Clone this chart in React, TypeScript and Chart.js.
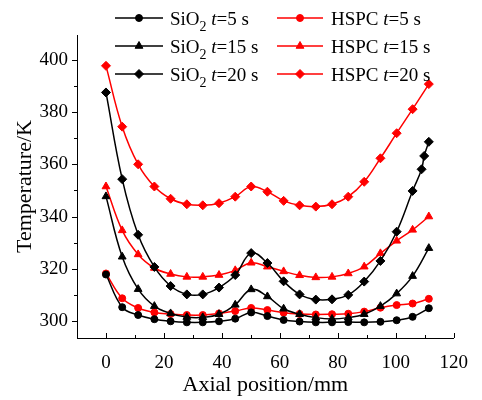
import React, { useEffect, useRef } from "react";
import { Chart, registerables } from "chart.js";

Chart.register(...registerables);

// Axial positions (mm)
const xPositions = [0, 5.6, 11.1, 16.7, 22.3, 27.9, 33.4, 39.0, 44.6, 50.1, 55.7, 61.3, 66.8, 72.4, 78.0, 83.6, 89.1, 94.7, 100.3, 105.8, 111.4];
const xPositionsSiO2t20 = [0, 5.6, 11.1, 16.7, 22.3, 27.9, 33.4, 39.0, 44.6, 50.1, 55.7, 61.3, 66.8, 72.4, 78.0, 83.6, 89.1, 94.7, 100.3, 105.8, 108.9, 109.8, 111.4];

// Temperatures (K)
const sio2T5 = [317.8, 305.3, 302.3, 300.7, 299.9, 299.5, 299.5, 299.9, 300.9, 303.3, 301.9, 300.4, 299.8, 299.5, 299.5, 299.6, 299.5, 299.7, 300.3, 301.6, 304.9];
const sio2T15 = [347.7, 324.6, 312.2, 305.7, 302.9, 301.5, 301.4, 302.6, 306.2, 312.1, 309.4, 304.7, 302.6, 301.3, 300.8, 301.3, 302.6, 305.7, 310.5, 317.2, 327.9];
const sio2T20 = [387.5, 354.3, 333.0, 320.7, 313.4, 310.2, 310.2, 312.8, 317.6, 326.0, 322.2, 315.2, 310.2, 308.2, 308.3, 310.0, 315.1, 323.0, 334.2, 349.8, 358.1, 363.2, 368.6];
const hspcT5 = [318.2, 308.7, 305.0, 303.3, 302.7, 302.3, 302.3, 302.9, 303.8, 305.0, 304.2, 303.2, 302.7, 302.5, 302.6, 302.8, 303.6, 305.1, 306.1, 306.7, 308.5];
const hspcT15 = [351.5, 334.7, 325.5, 320.3, 318.0, 316.9, 316.9, 317.6, 319.4, 322.3, 320.8, 319.0, 317.5, 316.7, 316.9, 318.2, 320.8, 325.9, 330.7, 334.9, 340.0];
const hspcT20 = [397.7, 374.4, 360.0, 351.5, 346.8, 344.7, 344.3, 345.1, 347.6, 351.5, 349.5, 346.0, 344.3, 343.8, 344.7, 347.6, 353.3, 362.3, 371.9, 381.1, 390.7];

// Legend texts
const legendMaterials = ["SiO", "SiO", "SiO", "HSPC", "HSPC", "HSPC"];
const legendSubscripts = ["2", "2", "2", "", "", ""];
const legendTimes = ["=5 s", "=15 s", "=20 s", "=5 s", "=15 s", "=20 s"];

// Tick values
const xTicks = [0, 20, 40, 60, 80, 100, 120];
const xMinorTicks = [10, 30, 50, 70, 90, 110];
const yTicks = [300, 320, 340, 360, 380, 400];
const yMinorTicks = [310, 330, 350, 370, 390];

const FONT = '"Liberation Serif", "Times New Roman", serif';
const BLACK = "#000000";
const RED = "#ff0000";

function toPoints(xs: number[], ys: number[]) {
  return ys.map((y, i) => ({ x: xs[i], y }));
}

const seriesDefs = [
  { xs: xPositions, ys: sio2T5, color: BLACK, style: "circle", r: 3.5 },
  { xs: xPositions, ys: sio2T15, color: BLACK, style: "triangle", r: 4.5 },
  { xs: xPositionsSiO2t20, ys: sio2T20, color: BLACK, style: "rectRot", r: 4.5 },
  { xs: xPositions, ys: hspcT5, color: RED, style: "circle", r: 3.5 },
  { xs: xPositions, ys: hspcT15, color: RED, style: "triangle", r: 4.5 },
  { xs: xPositions, ys: hspcT20, color: RED, style: "rectRot", r: 4.5 },
];

const ticksPlugin = {
  id: "customTicks",
  afterDraw(chart: any) {
    const ctx = chart.ctx;
    const xs = chart.scales.x;
    const ys = chart.scales.y;
    const area = chart.chartArea;
    ctx.save();
    ctx.strokeStyle = "#000";
    ctx.lineWidth = 1;
    ctx.beginPath();
    xTicks.forEach((v) => {
      const px = Math.round(xs.getPixelForValue(v)) + 0.5;
      ctx.moveTo(px, area.bottom);
      ctx.lineTo(px, area.bottom - 5);
    });
    xMinorTicks.forEach((v) => {
      const px = Math.round(xs.getPixelForValue(v)) + 0.5;
      ctx.moveTo(px, area.bottom);
      ctx.lineTo(px, area.bottom - 3);
    });
    yTicks.forEach((v) => {
      const py = Math.round(ys.getPixelForValue(v)) + 0.5;
      ctx.moveTo(area.left, py);
      ctx.lineTo(area.left - 5, py);
    });
    yMinorTicks.forEach((v) => {
      const py = Math.round(ys.getPixelForValue(v)) + 0.5;
      ctx.moveTo(area.left, py);
      ctx.lineTo(area.left - 3, py);
    });
    ctx.stroke();
    ctx.restore();
  },
};

const legendPlugin = {
  id: "customLegend",
  afterDraw(chart: any) {
    const ctx = chart.ctx;
    const rows = [18, 46, 74];
    const cols = [
      { x0: 115, x1: 163, tx: 170 },
      { x0: 277, x1: 323, tx: 331 },
    ];
    ctx.save();
    chart.data.datasets.forEach((ds: any, i: number) => {
      const col = cols[Math.floor(i / 3)];
      const y = rows[i % 3];
      ctx.strokeStyle = ds.borderColor;
      ctx.lineWidth = 1.5;
      ctx.beginPath();
      ctx.moveTo(col.x0, y);
      ctx.lineTo(col.x1, y);
      ctx.stroke();
      ctx.fillStyle = ds.borderColor;
      ctx.strokeStyle = ds.borderColor;
      ctx.lineWidth = 1;
      (Chart as any).helpers?.drawPoint;
      drawMarker(ctx, ds.pointStyle, ds.pointRadius, (col.x0 + col.x1) / 2, y);

      ctx.fillStyle = "#000";
      ctx.textBaseline = "alphabetic";
      ctx.textAlign = "left";
      let x = col.tx;
      const base = y + 6.5;
      ctx.font = `19px ${FONT}`;
      const mat = legendMaterials[i];
      ctx.fillText(mat, x, base);
      x += ctx.measureText(mat).width;
      const sub = legendSubscripts[i];
      if (sub) {
        ctx.font = `14px ${FONT}`;
        ctx.fillText(sub, x, base + 6);
        x += ctx.measureText(sub).width;
      }
      ctx.font = `19px ${FONT}`;
      x += ctx.measureText(" ").width;
      ctx.font = `italic 19px ${FONT}`;
      ctx.fillText("t", x, base);
      x += ctx.measureText("t").width;
      ctx.font = `19px ${FONT}`;
      ctx.fillText(legendTimes[i], x, base);
    });
    ctx.restore();
  },
};

function drawMarker(ctx: CanvasRenderingContext2D, style: string, r: number, x: number, y: number) {
  ctx.beginPath();
  if (style === "circle") {
    ctx.arc(x, y, r, 0, Math.PI * 2);
  } else if (style === "triangle") {
    const h = r * 1.5;
    const w = r * Math.sqrt(3);
    ctx.moveTo(x, y - r);
    ctx.lineTo(x + w / 2, y - r + h);
    ctx.lineTo(x - w / 2, y - r + h);
    ctx.closePath();
  } else {
    ctx.moveTo(x, y - r);
    ctx.lineTo(x + r, y);
    ctx.lineTo(x, y + r);
    ctx.lineTo(x - r, y);
    ctx.closePath();
  }
  ctx.fill();
  ctx.stroke();
}

export default function App() {
  const canvasRef = useRef<HTMLCanvasElement | null>(null);

  useEffect(() => {
    const canvas = canvasRef.current;
    if (!canvas) return;
    const chart = new Chart(canvas, {
      type: "line",
      data: {
        datasets: seriesDefs.map((s, i) => ({
          label: `${legendMaterials[i]}${legendSubscripts[i]} t${legendTimes[i]}`,
          data: toPoints(s.xs, s.ys),
          borderColor: s.color,
          backgroundColor: s.color,
          borderWidth: 1.5,
          pointStyle: s.style as any,
          pointRadius: s.r,
          pointBorderWidth: 1,
          pointBackgroundColor: s.color,
          pointBorderColor: s.color,
          tension: 0.4,
          fill: false,
        })),
      },
      options: {
        animation: false,
        responsive: false,
        maintainAspectRatio: false,
        layout: { padding: { left: 0, right: 17, top: 35, bottom: 0 } },
        plugins: {
          legend: { display: false },
          tooltip: { enabled: false },
        },
        scales: {
          x: {
            type: "linear",
            min: -10,
            max: 120,
            afterFit: (scale: any) => {
              scale.height = 62;
            },
            afterBuildTicks: (scale: any) => {
              scale.ticks = xTicks.map((v) => ({ value: v }));
            },
            grid: { display: false, drawTicks: false },
            border: { display: true, color: "#000", width: 1 },
            ticks: {
              color: "#000",
              font: { family: FONT, size: 19 },
              padding: 14,
              maxRotation: 0,
              autoSkip: false,
            },
            title: {
              display: true,
              text: "Axial position/mm",
              color: "#000",
              font: { family: FONT, size: 22 },
              padding: { top: 0, bottom: 2 },
            },
          },
          y: {
            type: "linear",
            min: 293.5,
            max: 409.5,
            afterFit: (scale: any) => {
              scale.width = 77;
            },
            afterBuildTicks: (scale: any) => {
              scale.ticks = yTicks.map((v) => ({ value: v }));
            },
            grid: { display: false, drawTicks: false },
            border: { display: true, color: "#000", width: 1 },
            ticks: {
              color: "#000",
              font: { family: FONT, size: 19 },
              padding: 9,
              autoSkip: false,
            },
            title: {
              display: true,
              text: "Temperature/K",
              color: "#000",
              font: { family: FONT, size: 22 },
              padding: { top: 12, bottom: 0 },
            },
          },
        },
      },
      plugins: [ticksPlugin, legendPlugin],
    });
    return () => chart.destroy();
  }, []);

  return (
    <div style={{ position: "fixed", left: 0, top: 0, width: 482, height: 400, background: "#fff" }}>
      <canvas ref={canvasRef} width={482} height={400} style={{ display: "block" }} />
    </div>
  );
}
